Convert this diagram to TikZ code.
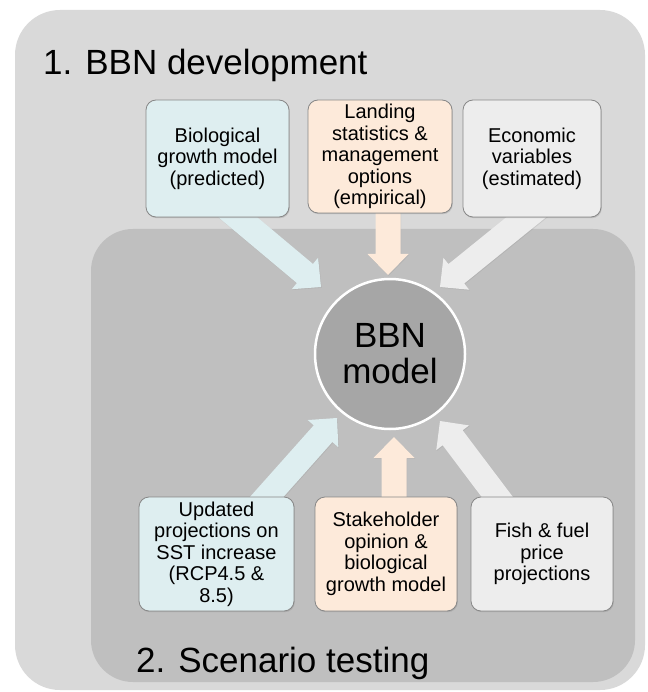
\documentclass[tikz,border=0pt]{standalone}
\usepackage{fontspec}
\setmainfont{Liberation Sans}
\usetikzlibrary{calc,shadows}

\pgfdeclarelayer{back}
\pgfdeclarelayer{mid}
\pgfsetlayers{back,mid,main}

\definecolor{outerbg}{RGB}{217,217,217}
\definecolor{innerbg}{RGB}{191,191,191}
\definecolor{hubfill}{RGB}{166,166,166}
\definecolor{bioteal}{RGB}{222,238,240}
\definecolor{peach}{RGB}{253,234,218}
\definecolor{econgray}{RGB}{237,237,237}
\definecolor{edgegray}{RGB}{135,135,135}

\tikzset{
  inbox/.style={draw=edgegray, line width=0.8pt, rounded corners=10pt,
    align=center, inner sep=0pt, text=black,
    font=\fontsize{20}{21.5}\selectfont,
    drop shadow={shadow xshift=0.8pt, shadow yshift=-1.2pt, opacity=0.3}},
  phasetitle/.style={anchor=base west, inner sep=0pt,
    font=\fontsize{35}{36}\selectfont},
  hub/.style={circle, fill=hubfill, draw=white, line width=2.5pt,
    minimum size=150pt, inner sep=0pt, align=center,
    font=\fontsize{35}{36}\selectfont,
    drop shadow={shadow xshift=0.6pt, shadow yshift=-0.8pt, opacity=0.3}},
  fatshade/.style={drop shadow={shadow xshift=0.6pt, shadow yshift=-0.8pt, opacity=0.18}}
}

% block arrow from edge point #1 to tip #2, filled with colour #3
\newcommand\fatarrow[3]{%
  \coordinate (fs) at ($(#2)!1.25!(#1)$);
  \coordinate (hb) at ($(#2)!21pt!(fs)$);
  \fill[#3, fatshade]
    ($(fs)!12.5pt!90:(#2)$) -- ($(hb)!12.5pt!-90:(fs)$) --
    ($(hb)!20.5pt!-90:(fs)$) -- (#2) -- ($(hb)!20.5pt!90:(fs)$) --
    ($(hb)!12.5pt!90:(fs)$) -- ($(fs)!12.5pt!-90:(#2)$) -- cycle;
}

\begin{document}
\begin{tikzpicture}[x=1pt, y=-1pt]
  \useasboundingbox (0,0) rectangle (647,692);

  % the two phase panels
  \begin{pgfonlayer}{back}
    \fill[outerbg, rounded corners=45pt] (15,10) rectangle (645,690);
    \fill[innerbg, rounded corners=42pt] (91,229) rectangle (635,682);
  \end{pgfonlayer}

  % titles
  \node[phasetitle] (t1title) at (43,75) {1. BBN development};
  \node[phasetitle] (t2title) at (136,672) {2. Scenario testing};

  % central model
  \node[hub] (bbn) at (390,354) {BBN\\model};

  % development inputs
  \node[inbox, fill=bioteal, minimum width=143pt, minimum height=117pt]
    (b1) at (217.5,158.5) {Biological\\growth model\\(predicted)};
  \node[inbox, fill=peach, minimum width=144pt, minimum height=113pt]
    (b2) at (380,156.5) {Landing\\statistics \&\\management\\options\\(empirical)};
  \node[inbox, fill=econgray, minimum width=138pt, minimum height=117pt]
    (b3) at (532,158.5) {Economic\\variables\\(estimated)};

  % scenario inputs
  \node[inbox, fill=bioteal, minimum width=155pt, minimum height=114pt]
    (b4) at (216.5,554) {Updated\\projections on\\SST increase\\(RCP4.5 \&\\8.5)};
  \node[inbox, fill=peach, minimum width=142pt, minimum height=114pt]
    (b5) at (386,554) {Stakeholder\\opinion \&\\biological\\growth model};
  \node[inbox, fill=econgray, minimum width=142pt, minimum height=114pt]
    (b6) at (542,554) {Fish \& fuel\\price\\projections};

  % arrow end points
  \coordinate (e1) at ($(b1.south)+(20.5,0)$);
  \coordinate (e2) at ($(b2.south)+(8,0)$);
  \coordinate (e3) at ($(b3.south)+(-6,0)$);
  \coordinate (e4) at ($(b4.north)+(50.5,0)$);
  \coordinate (e5) at ($(b5.north)+(8,0)$);
  \coordinate (e6) at ($(b6.north)+(-45,0)$);
  \coordinate (p1) at (321,287);
  \coordinate (p2) at (388,275);
  \coordinate (p3) at (440,287);
  \coordinate (p4) at (337,418);
  \coordinate (p5) at (394,437);
  \coordinate (p6) at (440,421);

  \begin{pgfonlayer}{mid}
    \fatarrow{e1}{p1}{bioteal}
    \fatarrow{e2}{p2}{peach}
    \fatarrow{e3}{p3}{econgray}
    \fatarrow{e4}{p4}{bioteal}
    \fatarrow{e5}{p5}{peach}
    \fatarrow{e6}{p6}{econgray}
  \end{pgfonlayer}
\end{tikzpicture}
\end{document}
